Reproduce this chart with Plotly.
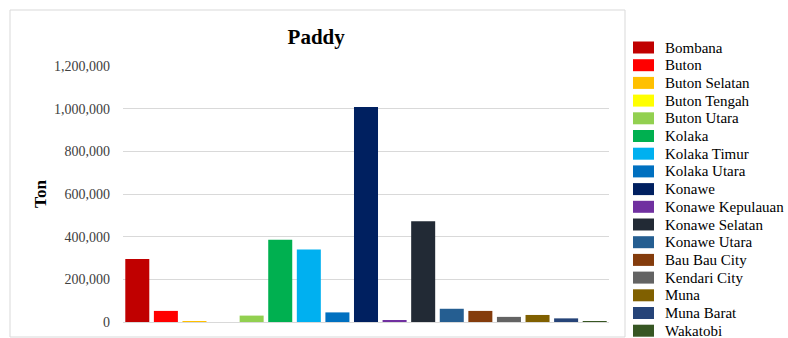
import plotly.graph_objects as go

regions = ["Bombana", "Buton", "Buton Selatan", "Buton Tengah", "Buton Utara",
           "Kolaka", "Kolaka Timur", "Kolaka Utara", "Konawe", "Konawe Kepulauan",
           "Konawe Selatan", "Konawe Utara", "Bau Bau City", "Kendari City",
           "Muna", "Muna Barat", "Wakatobi"]
paddy_ton = [295000, 52000, 2000, 0, 30000,
             385000, 340000, 45000, 1008000, 5000,
             472000, 62000, 52000, 24000,
             33000, 17000, 3000]
colors = ["#C00000", "#FF0000", "#FFC000", "#FFFF00", "#92D050",
          "#00B050", "#00B0F0", "#0070C0", "#002060", "#7030A0",
          "#222A35", "#255E91", "#843C0C", "#636363",
          "#806000", "#264478", "#375623"]
y_ticks = [0, 200000, 400000, 600000, 800000, 1000000, 1200000]

SERIF = "Liberation Serif, Times New Roman, serif"

fig = go.Figure()
for name, val, col in zip(regions, paddy_ton, colors):
    fig.add_trace(go.Bar(x=[name], y=[val], name=name, marker_color=col,
                         marker_line_width=0, showlegend=False))

W, H = 788, 338
ml, mr, mt, mb = 123, W - 609, 66, H - 322
pw = W - ml - mr
ph = H - mt - mb

def px_x(p):
    return (p - ml) / pw

def px_y(p):
    return (H - mb - p) / ph

fig.update_layout(
    width=W, height=H,
    margin=dict(l=ml, r=mr, t=mt, b=mb, pad=0, autoexpand=False),
    paper_bgcolor="white", plot_bgcolor="white",
    barmode="overlay", bargap=0.16,
    font=dict(family=SERIF, color="#404040", size=14),
    title=dict(text="<b>Paddy</b>", x=px_x(318), xanchor="center",
               y=1 - 37 / H, yanchor="middle",
               font=dict(family=SERIF, size=21, color="#000000")),
    xaxis=dict(categoryorder="array", categoryarray=regions,
               showticklabels=False, showgrid=False, zeroline=False,
               showline=False, ticks=""),
    yaxis=dict(range=[0, 1200000], tickvals=y_ticks, tickformat=",",
               showgrid=True, gridcolor="#D9D9D9", gridwidth=1,
               zeroline=True, zerolinecolor="#D9D9D9", zerolinewidth=1,
               showline=False, ticks="", ticklabelstandoff=12,
               tickfont=dict(family=SERIF, size=14, color="#404040"),
               title=dict(text="<b>Ton</b>", standoff=3,
                          font=dict(family=SERIF, size=17, color="#000000"))),
    showlegend=False,
)

# outer chart frame
fig.add_shape(type="rect", xref="paper", yref="paper",
              x0=px_x(10), x1=px_x(625), y0=px_y(337), y1=px_y(10),
              line=dict(color="#D9D9D9", width=1), fillcolor="rgba(0,0,0,0)",
              layer="below")

# legend drawn outside the frame
leg_top, leg_step = 47.5, 17.7
for i, (name, col) in enumerate(zip(regions, colors)):
    yc = leg_top + i * leg_step
    fig.add_shape(type="rect", xref="paper", yref="paper",
                  x0=px_x(633), x1=px_x(654), y0=px_y(yc + 6), y1=px_y(yc - 6),
                  line=dict(width=0), fillcolor=col)
    fig.add_annotation(xref="paper", yref="paper", x=px_x(663), y=px_y(yc),
                       xanchor="left", yanchor="middle", showarrow=False,
                       text=name, font=dict(family=SERIF, size=15, color="#000000"))

fig.write_html("out.html")
